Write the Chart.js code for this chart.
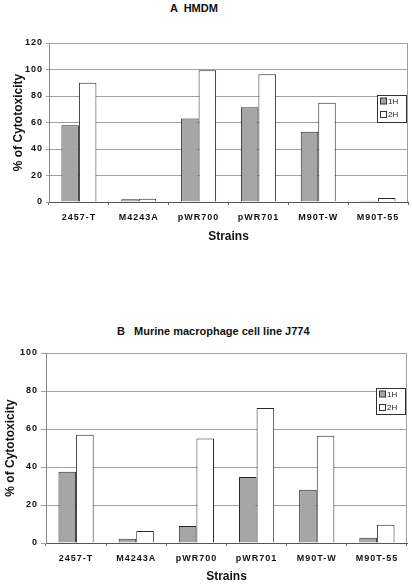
<!DOCTYPE html>
<html><head><meta charset="utf-8">
<script src="https://cdn.jsdelivr.net/npm/chart.js@4"></script>
<style>
html,body{margin:0;padding:0;background:#fff;width:412px;height:584px;overflow:hidden;position:relative;font-family:"Liberation Sans",Arial,sans-serif;}
.title{position:absolute;font-weight:bold;font-size:11px;line-height:13px;white-space:pre;color:#111;}
#ta{left:170px;top:2px;}
#tb{left:117px;top:325px;}
#wa{position:absolute;left:0;top:0;width:412px;height:250px;}
#wb{position:absolute;left:0;top:300px;width:412px;height:284px;}
</style></head><body>
<div class="title" id="ta">A  HMDM</div>
<div class="title" id="tb">B   Murine macrophage cell line J774</div>
<div id="wa"><canvas id="ca"></canvas></div>
<div id="wb"><canvas id="cb"></canvas></div>
<script>
const strains = ['2457-T','M4243A','pWR700','pWR701','M90T-W','M90T-55'];
const seriesNames = ['1H','2H'];
const hmdm1H = [58, 2, 63, 71.5, 53, 1];
const hmdm2H = [90, 2.5, 99.5, 96.5, 75, 3];
const j774_1H = [37.5, 2.2, 9, 34.7, 28, 2.8];
const j774_2H = [57, 6.3, 55, 71, 56.5, 9.6];
const hmdmMax = 120;
const j774Max = 100;
const tickStep = 20;
const yTitle = '% of Cytotoxicity';
const xTitle = 'Strains';

const FONT = '"Liberation Sans", Arial, sans-serif';
const GRID = '#a0a0a0';

const boxLegend = {
  id: 'boxLegend',
  afterDatasetsDraw(chart, args, o) {
    const ctx = chart.ctx;
    ctx.save();
    ctx.fillStyle = '#fff';
    ctx.fillRect(o.x, o.y, o.w, o.h);
    ctx.strokeStyle = '#333';
    ctx.lineWidth = 1;
    ctx.strokeRect(o.x + 0.5, o.y + 0.5, o.w - 1, o.h - 1);
    ctx.font = '8px ' + FONT;
    ctx.textBaseline = 'middle';
    chart.data.datasets.forEach((ds, i) => {
      const cy = o.y + o.row0 + i * o.rowGap;
      ctx.fillStyle = ds.backgroundColor;
      ctx.fillRect(o.x + 3.5, cy - 3, 6, 6);
      ctx.strokeStyle = '#333';
      ctx.strokeRect(o.x + 3.5, cy - 3, 6, 6);
      ctx.fillStyle = '#222';
      ctx.fillText(ds.label, o.x + 11, cy + 0.5);
    });
    ctx.restore();
  }
};

const frame = {
  id: 'frame',
  beforeDraw(chart) {
    Object.values(chart.scales).forEach(s => {
      if (!s._spaced) {
        const orig = s.drawLabels.bind(s);
        s.drawLabels = function(a) {
          const c = this.ctx; c.save(); c.letterSpacing = '1px'; orig(a); c.restore();
        };
        s._spaced = true;
      }
    });
  },
  afterDatasetsDraw(chart) {
    const {ctx, chartArea: a} = chart;
    ctx.save();
    ctx.strokeStyle = GRID;
    ctx.lineWidth = 1;
    ctx.beginPath();
    ctx.moveTo(Math.round(a.left) + 0.5, Math.round(a.top) + 0.5);
    ctx.lineTo(Math.round(a.right) - 0.5, Math.round(a.top) + 0.5);
    ctx.lineTo(Math.round(a.right) - 0.5, Math.round(a.bottom));
    ctx.stroke();
    ctx.restore();
  }
};

function makeChart(id, d1, d2, yMax, L) {
  return new Chart(document.getElementById(id), {
    type: 'bar',
    data: {
      labels: strains,
      datasets: [
        {label: seriesNames[0], data: d1, backgroundColor: '#a6a6a6', borderColor: '#2a2a2a', borderWidth: 1, borderSkipped: 'bottom'},
        {label: seriesNames[1], data: d2, backgroundColor: '#ffffff', borderColor: '#2a2a2a', borderWidth: 1, borderSkipped: 'bottom'}
      ]
    },
    options: {
      responsive: true,
      maintainAspectRatio: false,
      animation: false,
      events: [],
      layout: {padding: {top: L.top, right: L.right, left: 0, bottom: 0}},
      datasets: {bar: {categoryPercentage: 0.585, barPercentage: 1}},
      plugins: {
        legend: {display: false},
        tooltip: {enabled: false},
        boxLegend: L.legend
      },
      scales: {
        x: {
          afterFit(s) { s.height = L.xh; },
          grid: {offset: true, drawOnChartArea: false, tickLength: 3, color: '#666'},
          border: {color: '#555'},
          ticks: {font: {family: FONT, size: 9, weight: 'bold'}, color: '#111', padding: L.xpad, maxRotation: 0, autoSkip: false},
          title: {display: true, text: xTitle, font: {family: FONT, size: 12, weight: 'bold'}, color: '#111', padding: {top: 0, bottom: L.xtb}}
        },
        y: {
          min: 0, max: yMax,
          afterFit(s) { s.width = L.yw; },
          grid: {color: GRID, tickLength: L.ytl, drawTicks: true},
          border: {color: '#888'},
          ticks: {stepSize: tickStep, font: {family: FONT, size: 9, weight: 'bold'}, color: '#111', padding: 3},
          title: {display: true, text: yTitle, font: {family: FONT, size: 12, weight: 'bold'}, color: '#111', padding: {top: L.ytp, bottom: 0}}
        }
      }
    },
    plugins: [frame, boxLegend]
  });
}

makeChart('ca', hmdm1H, hmdm2H, hmdmMax, {
  top: 43, right: 4, yw: 49, xh: 48, xpad: 7, xtb: 6, ytl: 3, ytp: 11,
  legend: {x: 377, y: 95, w: 30, h: 28, row0: 6, rowGap: 13.5}
});
makeChart('cb', j774_1H, j774_2H, j774Max, {
  top: 53, right: 5, yw: 46, xh: 41, xpad: 7, xtb: 0, ytl: 5, ytp: 3,
  legend: {x: 376, y: 88, w: 30, h: 27, row0: 6, rowGap: 13.5}
});
</script>
</body></html>
